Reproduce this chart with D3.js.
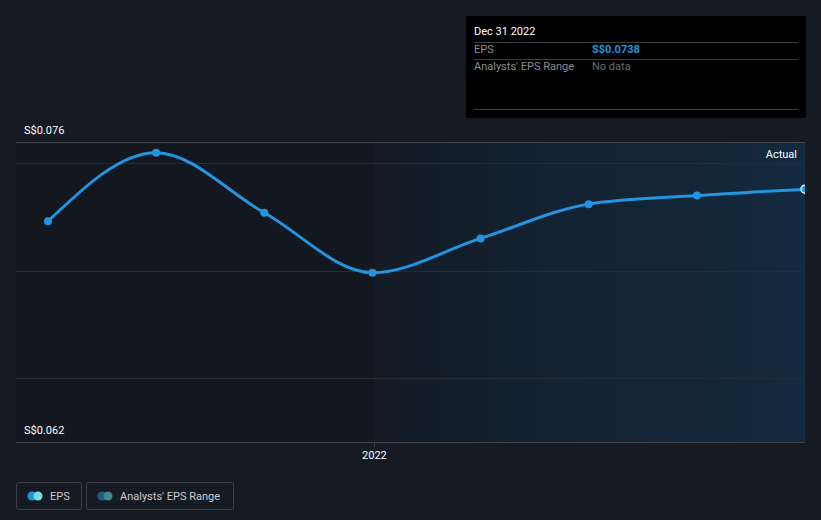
<!DOCTYPE html>
<html><head><meta charset="utf-8">
<script src="https://cdn.jsdelivr.net/npm/d3@7"></script>
<style>html,body{margin:0;padding:0;background:#151a23;}svg{display:block;font-family:Roboto,"Open Sans",sans-serif;}</style>
</head><body>
<svg id="c" width="821" height="520"></svg>
<script>
const dates = ["2021-03-31","2021-06-30","2021-09-30","2021-12-31","2022-03-31","2022-06-30","2022-09-30","2022-12-31"];
const eps = [0.0723, 0.0755, 0.0727, 0.0699, 0.0715, 0.0731, 0.0735, 0.0738];
const yTicks = [0.065, 0.070, 0.075];
const yLabels = ["S$0.076", "S$0.062"];
const xTickLabels = ["2022"];

(function(){
const svg = d3.select("#c");
const W = 821, H = 520;
const pL = 16, pR = 805, pT = 142, pB = 442;
const x2 = d3.scaleLinear().domain([0, dates.length - 1]).range([48, pR]);
const y = d3.scaleLinear().domain([0.062, 0.076]).range([pB, pT]);

svg.append("rect").attr("width", W).attr("height", H).attr("fill", "#151a23");
const defs = svg.append("defs");
const g = defs.append("linearGradient").attr("id", "fut").attr("x1", 0).attr("x2", 1);
g.append("stop").attr("offset", 0).attr("stop-color", "#141c27");
g.append("stop").attr("offset", 1).attr("stop-color", "#132a40");
defs.append("clipPath").attr("id", "clip").append("rect").attr("x", 0).attr("y", pT).attr("width", pR).attr("height", pB - pT);

const splitX = x2(3) + 2;
svg.append("rect").attr("x", pL).attr("y", pT).attr("width", splitX - pL).attr("height", pB - pT).attr("fill", "#13171f");
svg.append("rect").attr("x", splitX).attr("y", pT).attr("width", pR - splitX).attr("height", pB - pT).attr("fill", "url(#fut)");

svg.selectAll(".grid").data(yTicks).join("line")
  .attr("x1", pL).attr("x2", pR).attr("y1", d => Math.round(y(d)) + 0.5).attr("y2", d => Math.round(y(d)) + 0.5)
  .attr("stroke", "#252c36").attr("stroke-width", 1);
svg.append("line").attr("x1", pL).attr("x2", pR).attr("y1", pT + 0.5).attr("y2", pT + 0.5).attr("stroke", "#41464f");
svg.append("line").attr("x1", pL).attr("x2", pR).attr("y1", pB + 0.5).attr("y2", pB + 0.5).attr("stroke", "#41464f");
svg.append("line").attr("x1", splitX).attr("x2", splitX).attr("y1", pB).attr("y2", pB + 5).attr("stroke", "#41464f");

svg.append("text").attr("x", 24).attr("y", y(0.076) - 8).attr("fill", "#fff").attr("font-size", 11).text(yLabels[0]);
svg.append("text").attr("x", 24).attr("y", y(0.062) - 8).attr("fill", "#fff").attr("font-size", 11).text(yLabels[1]);
svg.append("text").attr("x", splitX).attr("y", 459).attr("fill", "#fff").attr("font-size", 11).attr("text-anchor", "middle").text(xTickLabels[0]);
svg.append("text").attr("x", 797).attr("y", 158).attr("fill", "#fff").attr("font-size", 11).attr("text-anchor", "end").text("Actual");

const plot = svg.append("g").attr("clip-path", "url(#clip)");
const line = d3.line().x((d, i) => x2(i)).y(d => y(d)).curve(d3.curveMonotoneX);
plot.append("path").datum(eps).attr("d", line).attr("fill", "none").attr("stroke", "#2394df").attr("stroke-width", 3);
plot.selectAll(".pt").data(eps.slice(0, -1)).join("circle")
  .attr("cx", (d, i) => x2(i)).attr("cy", d => y(d)).attr("r", 4).attr("fill", "#2394df");
plot.append("circle").attr("cx", x2(eps.length - 1)).attr("cy", y(eps[eps.length - 1])).attr("r", 4)
  .attr("fill", "#2394df").attr("stroke", "#d6ecfb").attr("stroke-width", 1.5);

const tt = svg.append("g").attr("transform", "translate(466,16)");
tt.append("rect").attr("width", 340).attr("height", 102).attr("fill", "#000");
tt.append("text").attr("x", 8).attr("y", 19).attr("fill", "#fff").attr("font-size", 11).text("Dec 31 2022");
[26, 43, 93].forEach(yy => tt.append("line").attr("x1", 8).attr("x2", 332).attr("y1", yy + 0.5).attr("y2", yy + 0.5).attr("stroke", "#3a3d42"));
tt.append("text").attr("x", 8).attr("y", 37).attr("fill", "#8a8d92").attr("font-size", 11).text("EPS");
tt.append("text").attr("x", 126).attr("y", 37).attr("fill", "#2394df").attr("font-size", 11).attr("font-weight", "bold").text("S$" + eps[eps.length - 1].toFixed(4));
tt.append("text").attr("x", 8).attr("y", 54).attr("fill", "#8a8d92").attr("font-size", 11).text("Analysts' EPS Range");
tt.append("text").attr("x", 126).attr("y", 54).attr("fill", "#6a6d72").attr("font-size", 11).text("No data");

const leg = [
  {x: 16, w: 65, label: "EPS", c1: "#2394df", c2: "#6fe0dc"},
  {x: 86, w: 147, label: "Analysts' EPS Range", c1: "#1f5a8a", c2: "#3f8a88"}
];
leg.forEach(l => {
  const gg = svg.append("g").attr("transform", `translate(${l.x},482)`);
  gg.append("rect").attr("x", 0.5).attr("y", 0.5).attr("width", l.w).attr("height", 27).attr("rx", 2).attr("fill", "none").attr("stroke", "#3a3f48");
  gg.append("circle").attr("cx", 16).attr("cy", 14).attr("r", 4.5).attr("fill", l.c1);
  gg.append("circle").attr("cx", 22).attr("cy", 14).attr("r", 4.5).attr("fill", l.c2);
  gg.append("text").attr("x", 34).attr("y", 18).attr("fill", "#c9ccd1").attr("font-size", 11).text(l.label);
});
})();
</script>
</body></html>
